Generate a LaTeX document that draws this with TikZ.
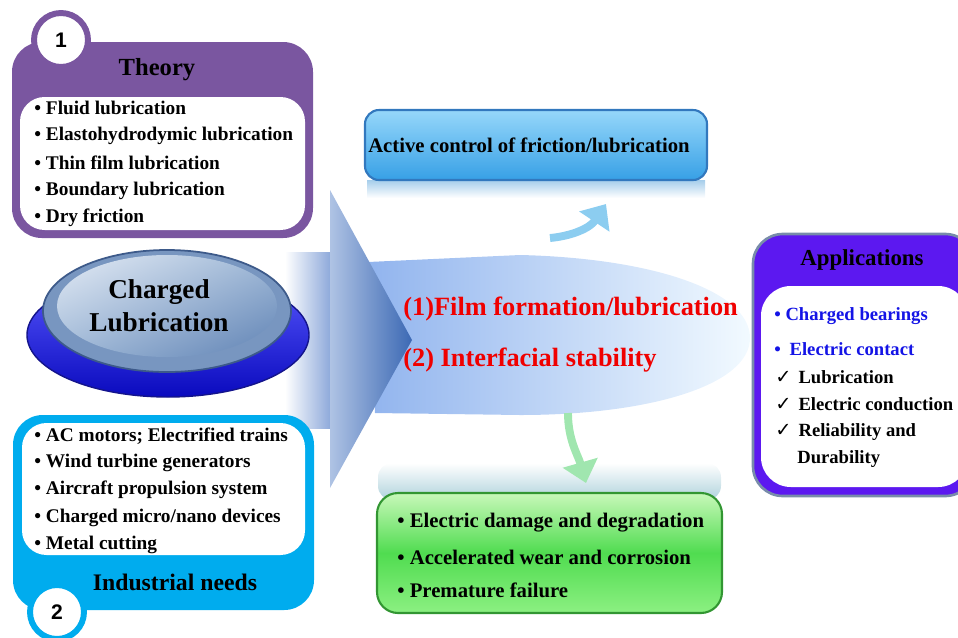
\documentclass[tikz,border=0pt]{standalone}
\usepackage{fontspec}
\setmainfont{Liberation Serif}
\newfontfamily\numfont{Liberation Sans}
\newfontfamily\symfont{DejaVu Sans}
\usetikzlibrary{arrows.meta,shadings}

\definecolor{theorypurple}{RGB}{122,86,160}
\definecolor{needcyan}{RGB}{0,172,238}
\definecolor{appviolet}{RGB}{92,24,240}
\definecolor{appborder}{RGB}{120,140,170}
\definecolor{filmred}{RGB}{240,0,0}
\definecolor{bearblue}{RGB}{20,20,230}
\definecolor{conecolor}{RGB}{145,180,238}
\definecolor{conetip}{RGB}{242,250,255}
\definecolor{headlight}{RGB}{175,195,228}
\definecolor{headdark}{RGB}{60,105,180}
\definecolor{bodyblue}{RGB}{140,168,218}
\definecolor{discblue}{RGB}{90,90,255}
\definecolor{discdark}{RGB}{10,10,190}
\definecolor{discedge}{RGB}{20,20,140}
\definecolor{rimblue}{RGB}{120,150,192}
\definecolor{rimedge}{RGB}{61,90,138}
\definecolor{toplight}{RGB}{228,235,245}
\definecolor{topmid}{RGB}{160,185,215}
\definecolor{topdark}{RGB}{95,130,180}
\definecolor{activetop}{RGB}{150,215,250}
\definecolor{activebottom}{RGB}{55,160,230}
\definecolor{activeedge}{RGB}{50,120,190}
\definecolor{activeglow}{RGB}{165,205,235}
\definecolor{greentop}{RGB}{200,248,185}
\definecolor{greenmid}{RGB}{80,220,80}
\definecolor{greenbottom}{RGB}{140,240,130}
\definecolor{greenedge}{RGB}{50,150,50}
\definecolor{greenglow}{RGB}{175,210,220}
\definecolor{upflowcol}{RGB}{140,205,240}
\definecolor{downflowcol}{RGB}{160,230,175}

\tikzset{
  item/.style={anchor=west, inner sep=0pt, font=\bfseries\fontsize{11}{13}\selectfont},
  appitem/.style={item, font=\bfseries\fontsize{10.6}{13}\selectfont},
  bigitem/.style={item, font=\bfseries\fontsize{11.8}{14}\selectfont},
  boxtitle/.style={inner sep=0pt, font=\bfseries\fontsize{14}{16}\selectfont},
  filmtext/.style={anchor=west, inner sep=0pt, text=filmred, font=\bfseries\fontsize{15}{18}\selectfont},
  numbadge/.style={circle, fill=white, line width=3.4pt, minimum size=1.08cm, inner sep=0pt,
    font=\numfont\bfseries\fontsize{12}{14}\selectfont},
  flow/.style={line width=4.5pt, -{Triangle[length=12pt,width=20pt]}},
}
\newcommand{\tick}{{\symfont\mdseries\fontsize{11}{12}\selectfont ✓}\hspace{4pt}}

\begin{document}
\begin{tikzpicture}[x=0.02cm, y=-0.02cm]
\useasboundingbox (0,0) rectangle (958,637);

% film cone and big arrow
\shade[left color=conecolor, right color=conetip]
  (368,262) -- (520,255) .. controls (650,258) and (750,290) .. (750,338)
  .. controls (750,385) and (650,415) .. (520,415) -- (375,413) -- cycle;
\shade[left color=white, right color=bodyblue] (285,252) rectangle (331,428);
\shade[left color=headlight, right color=headdark] (330,190) -- (412,340) -- (330,488) -- cycle;

% theory
\fill[theorypurple, rounded corners=17pt] (12,42) rectangle (313,238);
\fill[white, rounded corners=14pt] (20,97) rectangle (305,230);
\path
(61,40) node[numbadge, draw=theorypurple] (one) {1}
(157,70) node[boxtitle] (theory) {Theory}
(34,108) node[item] (fluid) {\textbullet{} Fluid lubrication}
(34,136) node[item] (ehl) {\textbullet{} Elastohydrodymic lubrication}
(34,163) node[item] (thin) {\textbullet{} Thin film lubrication}
(34,191) node[item] (boundary) {\textbullet{} Boundary lubrication}
(34,218) node[item] (dry) {\textbullet{} Dry friction};

% charged lubrication disc
\shade[top color=discblue, bottom color=discdark, draw=discedge, line width=0.8pt] (168,335) ellipse (141 and 62);
\fill[rimblue, draw=rimedge, line width=1pt] (167,311) ellipse (124 and 61);
\shade[upper left=toplight, upper right=topmid, lower left=topmid, lower right=topdark] (167,306) ellipse (110 and 51);
\node[align=center, inner sep=0pt, font=\bfseries\fontsize{15.5}{18.7}\selectfont] (charged) at (159,306) {Charged\\Lubrication};

% industrial needs
\fill[needcyan, rounded corners=17pt] (13,415) rectangle (314,610);
\fill[white, rounded corners=14pt] (22,423) rectangle (305,555);
\path
(57,612) node[numbadge, draw=needcyan] (two) {2}
(175,582) node[boxtitle, font=\bfseries\fontsize{13.5}{16}\selectfont] (needs) {Industrial needs}
(34,436) node[item] (motors) {\textbullet{} AC motors; Electrified trains}
(34,463) node[item] (wind) {\textbullet{} Wind turbine generators}
(34,490) node[item] (aircraft) {\textbullet{} Aircraft propulsion system}
(34,518) node[item] (micro) {\textbullet{} Charged micro/nano devices}
(34,545) node[item] (cutting) {\textbullet{} Metal cutting};

% active control
\shade[top color=activeglow, bottom color=white] (367,180) rectangle (705,198);
\shade[top color=activetop, bottom color=activebottom, draw=activeedge, line width=1.2pt, rounded corners=8pt]
  (365,110) rectangle (707,180);
\node[inner sep=0pt, font=\bfseries\fontsize{11.8}{14}\selectfont] (active) at (529,145) {Active control of friction/lubrication};

% film text
\path
(403,309) node[filmtext] (film) {(1)Film formation/lubrication}
(403,360) node[filmtext] (stable) {(2) Interfacial stability};

% damage
\shade[top color=white, bottom color=greenglow, rounded corners=8pt] (378,463) rectangle (721,500);
\shade[top color=greentop, bottom color=greenbottom, middle color=greenmid, draw=greenedge, line width=1.2pt, rounded corners=12pt]
  (377,493) rectangle (722,613);
\path
(397,523) node[bigitem] (damage) {\textbullet{} Electric damage and degradation}
(397,557) node[bigitem] (wear) {\textbullet{} Accelerated wear and corrosion}
(397,590) node[bigitem] (failure) {\textbullet{} Premature failure};

% flow arrows
\coordinate (uptail) at (550,238);
\coordinate (uptip) at (606,204);
\coordinate (downtail) at (568,413);
\coordinate (downtip) at (586,483);
\draw[flow, upflowcol] (uptail) .. controls (572,236) and (590,228) .. (uptip);
\draw[flow, downflowcol] (downtail) .. controls (568,440) and (578,455) .. (downtip);

% applications
\fill[appviolet, draw=appborder, line width=1.5pt, rounded corners=17pt] (753,234) rectangle (975,496);
\fill[white, rounded corners=17pt] (761,286) rectangle (968,487);
\path
(862,260) node[boxtitle, font=\bfseries\fontsize{13}{15}\selectfont] (apps) {Applications}
(774,316) node[appitem, text=bearblue] (bearings) {\textbullet{} Charged bearings}
(774,349) node[appitem, text=bearblue] (contact) {\textbullet\hspace{5pt}Electric contact}
(775,377) node[appitem] (lub) {\tick Lubrication}
(775,404) node[appitem] (conduction) {\tick Electric conduction}
(775,432) node[appitem] (reliability) {\tick Reliability and}
(797,459) node[appitem] (durability) {Durability};
\end{tikzpicture}
\end{document}
